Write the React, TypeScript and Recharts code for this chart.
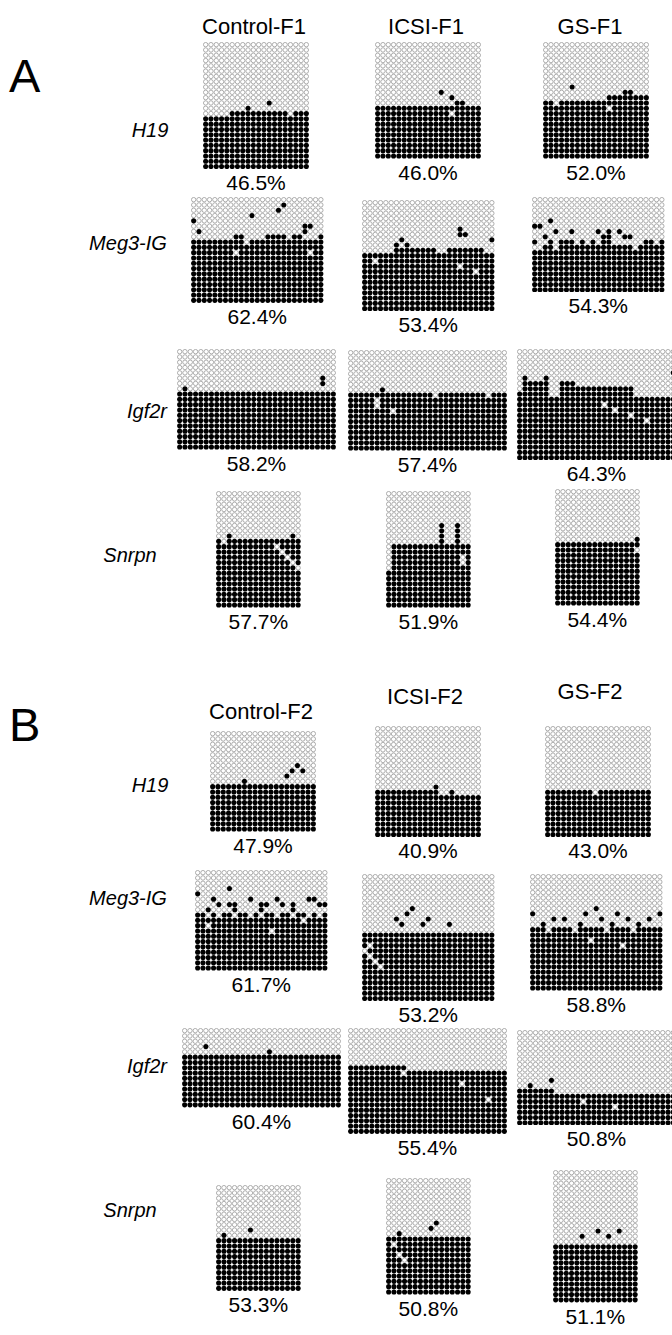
import React from "react";
import { ScatterChart, Scatter, XAxis, YAxis } from "recharts";

// dot pitch in px
const P = 5.3;

const groupsA = ["Control-F1", "ICSI-F1", "GS-F1"];
const groupsB = ["Control-F2", "ICSI-F2", "GS-F2"];
const genes = ["H19", "Meg3-IG", "Igf2r", "Snrpn"];

// methylated clones per CpG column (counted from the bottom), plus single dots that break the pattern
const aH19CtrlH = [10, 10, 10, 10, 10, 11, 11, 11, 11, 11, 11, 11, 11, 11, 11, 11, 11, 11, 11, 11];
const aH19CtrlF = [[8, 11], [12, 12], [16, 10]];
const aH19IcsiH = [10, 10, 10, 10, 10, 10, 10, 10, 10, 10, 10, 10, 10, 10, 10, 11, 11, 10, 10, 10];
const aH19IcsiF = [[12, 12], [14, 11], [14, 8]];
const aH19GsH = [11, 11, 11, 11, 11, 11, 11, 11, 11, 11, 11, 11, 12, 12, 12, 12, 12, 12, 12, 12];
const aH19GsF = [[5, 13], [15, 12], [16, 12], [2, 10], [12, 9]];

const aMegCtrlH = [12, 12, 12, 12, 12, 12, 12, 12, 13, 13, 11, 12, 12, 12, 13, 13, 13, 13, 12, 13, 13, 12, 12, 12, 13];
const aMegCtrlF = [[0, 15], [1, 13], [11, 16], [16, 17], [17, 18], [21, 14], [22, 14], [21, 13], [8, 9], [22, 9]];
const aMegIcsiH = [11, 11, 11, 11, 11, 11, 12, 12, 12, 12, 12, 12, 12, 12, 11, 11, 12, 12, 12, 12, 12, 12, 12, 11, 11];
const aMegIcsiF = [[7, 13], [6, 12], [8, 12], [18, 15], [18, 14], [19, 14], [24, 13], [2, 9], [18, 8], [21, 7]];
const aMegGsH = [8, 8, 9, 9, 8, 9, 9, 9, 9, 9, 9, 9, 9, 9, 9, 9, 9, 9, 9, 8, 9, 9, 9, 9, 9];
const aMegGsF = [
  [0, 9], [3, 9], [5, 9], [6, 9], [7, 9], [9, 9], [11, 9], [13, 9], [14, 9], [21, 9], [22, 9], [24, 9],
  [2, 10], [13, 10], [14, 10], [17, 10], [18, 10], [4, 11], [7, 11], [12, 11], [14, 11], [16, 11],
  [0, 12], [1, 12], [3, 13],
];

const aIgfCtrlH = [11, 11, 11, 11, 11, 11, 11, 11, 11, 11, 11, 11, 11, 11, 11, 11, 11, 11, 11, 11, 11, 11, 11, 11, 11, 11, 11, 11, 11, 11];
const aIgfCtrlF = [[1, 11], [27, 12], [27, 13]];
const aIgfIcsiH = [11, 11, 11, 11, 11, 11, 11, 11, 11, 11, 11, 11, 11, 11, 11, 11, 11, 11, 11, 11, 11, 11, 11, 11, 11, 11, 11, 11, 11, 11];
const aIgfIcsiF = [[6, 11], [5, 9], [5, 8], [8, 7], [16, 10], [26, 10]];
const aIgfGsH = [13, 15, 15, 15, 15, 15, 12, 12, 15, 15, 15, 14, 14, 14, 14, 14, 14, 14, 14, 14, 14, 14, 12, 12, 12, 12, 12, 12, 12, 12];
const aIgfGsF = [[1, 15], [5, 15], [29, 16], [16, 10], [18, 9], [21, 8], [24, 7]];

const aSnrCtrlH = [13, 13, 13, 13, 13, 13, 13, 13, 13, 13, 13, 13, 13, 13, 13, 13];
const aSnrCtrlF = [[2, 13], [14, 13], [1, 12], [11, 11], [12, 10], [13, 9], [14, 8], [15, 7]];
const aSnrIcsiH = [7, 12, 12, 12, 12, 12, 12, 12, 12, 12, 12, 12, 12, 12, 12, 12];
const aSnrIcsiF = [[10, 12], [10, 13], [10, 14], [10, 15], [13, 12], [13, 13], [13, 14], [13, 15], [14, 9], [14, 8]];
const aSnrGsH = [12, 12, 12, 12, 12, 12, 12, 12, 12, 12, 12, 12, 12, 12, 12, 12];
const aSnrGsF = [[15, 12], [15, 10]];

const bH19CtrlH = [9, 9, 9, 9, 9, 9, 9, 9, 9, 9, 9, 9, 9, 9, 9, 9, 9, 9, 9, 9];
const bH19CtrlF = [[6, 9], [14, 10], [15, 11], [16, 12], [17, 11]];
const bH19IcsiH = [9, 9, 9, 9, 9, 9, 9, 9, 9, 9, 9, 9, 9, 8, 8, 8, 8, 8, 8, 8];
const bH19IcsiF = [[11, 9], [12, 8], [14, 8]];
const bH19GsH = [9, 9, 9, 9, 9, 9, 9, 9, 9, 9, 9, 9, 9, 9, 9, 9, 9, 9, 9, 9];
const bH19GsF = [[9, 8]];

const bMegCtrlH = [10, 10, 10, 10, 10, 10, 10, 10, 10, 10, 10, 10, 10, 10, 10, 10, 10, 10, 10, 10, 10, 10, 10, 10, 10];
const bMegCtrlF = [
  [0, 14], [6, 15], [3, 13], [4, 12], [6, 12], [7, 12], [10, 13], [12, 12], [13, 12], [15, 13], [16, 12],
  [18, 12], [21, 13], [22, 13], [23, 12], [24, 12], [0, 10], [1, 10], [3, 10], [5, 10], [6, 10], [8, 10],
  [9, 10], [11, 10], [13, 10], [14, 10], [16, 10], [17, 10], [19, 10], [20, 10], [22, 10], [24, 10],
  [2, 11], [7, 11], [12, 11], [18, 11], [2, 8], [14, 7], [20, 9],
];
const bMegIcsiH = [13, 13, 13, 13, 13, 13, 13, 13, 13, 13, 13, 13, 13, 13, 13, 13, 13, 13, 13, 13, 13, 13, 13, 13, 13];
const bMegIcsiF = [[6, 15], [8, 16], [9, 17], [11, 14], [12, 15], [16, 14], [7, 14], [1, 8], [2, 7], [3, 6], [1, 10], [0, 9]];
const bMegGsH = [12, 12, 12, 12, 12, 12, 12, 12, 12, 12, 12, 12, 12, 12, 12, 12, 12, 12, 12, 12, 12, 12, 12, 12, 12];
const bMegGsF = [
  [0, 14], [2, 12], [4, 13], [6, 13], [9, 12], [10, 14], [12, 15], [13, 13], [15, 12], [16, 14], [18, 13],
  [20, 12], [22, 13], [24, 14], [3, 11], [8, 11], [14, 11], [19, 11], [11, 9], [17, 8],
];

const bIgfCtrlH = [10, 10, 10, 10, 10, 10, 10, 10, 10, 10, 10, 10, 10, 10, 10, 10, 10, 10, 10, 10, 10, 10, 10, 10, 10, 10, 10, 10, 10, 10];
const bIgfCtrlF = [[4, 11], [16, 10]];
const bIgfIcsiH = [13, 13, 13, 13, 13, 13, 13, 13, 13, 13, 13, 12, 12, 12, 12, 12, 12, 12, 12, 12, 12, 12, 12, 12, 12, 12, 12, 12, 12, 12];
const bIgfIcsiF = [[10, 11], [26, 6], [21, 9]];
const bIgfGsH = [7, 7, 7, 7, 7, 7, 7, 6, 6, 6, 6, 6, 6, 6, 6, 6, 6, 6, 6, 6, 6, 6, 6, 6, 6, 6, 6, 6, 6, 6];
const bIgfGsF = [[2, 7], [6, 8], [12, 4], [18, 3]];

const bSnrCtrlH = [10, 10, 10, 10, 10, 10, 10, 10, 10, 10, 10, 10, 10, 10, 10, 10];
const bSnrCtrlF = [[1, 10], [6, 11]];
const bSnrIcsiH = [11, 11, 11, 11, 11, 11, 11, 11, 11, 11, 11, 11, 11, 11, 11, 11];
const bSnrIcsiF = [[2, 11], [8, 12], [9, 13], [1, 9], [2, 7], [3, 6]];
const bSnrGsH = [11, 11, 11, 11, 11, 11, 11, 11, 11, 11, 11, 11, 11, 11, 11, 11];
const bSnrGsF = [[5, 12], [8, 13], [10, 12], [12, 13]];

const pctA = ["46.5%", "46.0%", "52.0%", "62.4%", "53.4%", "54.3%", "58.2%", "57.4%", "64.3%", "57.7%", "51.9%", "54.4%"];
const pctB = ["47.9%", "40.9%", "43.0%", "61.7%", "53.2%", "58.8%", "60.4%", "55.4%", "50.8%", "53.3%", "50.8%", "51.1%"];

type Grid = { rows: number; heights: number[]; flips: number[][]; pct: string };

const gridsA: Grid[] = [
  { rows: 24, heights: aH19CtrlH, flips: aH19CtrlF, pct: pctA[0] },
  { rows: 22, heights: aH19IcsiH, flips: aH19IcsiF, pct: pctA[1] },
  { rows: 22, heights: aH19GsH, flips: aH19GsF, pct: pctA[2] },
  { rows: 20, heights: aMegCtrlH, flips: aMegCtrlF, pct: pctA[3] },
  { rows: 21, heights: aMegIcsiH, flips: aMegIcsiF, pct: pctA[4] },
  { rows: 18, heights: aMegGsH, flips: aMegGsF, pct: pctA[5] },
  { rows: 19, heights: aIgfCtrlH, flips: aIgfCtrlF, pct: pctA[6] },
  { rows: 19, heights: aIgfIcsiH, flips: aIgfIcsiF, pct: pctA[7] },
  { rows: 21, heights: aIgfGsH, flips: aIgfGsF, pct: pctA[8] },
  { rows: 22, heights: aSnrCtrlH, flips: aSnrCtrlF, pct: pctA[9] },
  { rows: 22, heights: aSnrIcsiH, flips: aSnrIcsiF, pct: pctA[10] },
  { rows: 22, heights: aSnrGsH, flips: aSnrGsF, pct: pctA[11] },
];

const gridsB: Grid[] = [
  { rows: 19, heights: bH19CtrlH, flips: bH19CtrlF, pct: pctB[0] },
  { rows: 21, heights: bH19IcsiH, flips: bH19IcsiF, pct: pctB[1] },
  { rows: 21, heights: bH19GsH, flips: bH19GsF, pct: pctB[2] },
  { rows: 19, heights: bMegCtrlH, flips: bMegCtrlF, pct: pctB[3] },
  { rows: 24, heights: bMegIcsiH, flips: bMegIcsiF, pct: pctB[4] },
  { rows: 22, heights: bMegGsH, flips: bMegGsF, pct: pctB[5] },
  { rows: 15, heights: bIgfCtrlH, flips: bIgfCtrlF, pct: pctB[6] },
  { rows: 20, heights: bIgfIcsiH, flips: bIgfIcsiF, pct: pctB[7] },
  { rows: 18, heights: bIgfGsH, flips: bIgfGsF, pct: pctB[8] },
  { rows: 20, heights: bSnrCtrlH, flips: bSnrCtrlF, pct: pctB[9] },
  { rows: 22, heights: bSnrIcsiH, flips: bSnrIcsiF, pct: pctB[10] },
  { rows: 25, heights: bSnrGsH, flips: bSnrGsF, pct: pctB[11] },
];

// page placement of each grid (left, top)
const posA = [
  [203, 42], [375, 42], [543, 42],
  [191, 197], [362, 200], [532, 197],
  [177, 349], [348, 350], [517, 349],
  [216, 491], [386, 491], [555, 489],
];
const posB = [
  [210, 731], [375, 726], [545, 726],
  [195, 870], [362, 874], [530, 874],
  [182, 1028], [348, 1028], [517, 1030],
  [216, 1185], [386, 1178], [553, 1170],
];

const font = "'Liberation Sans', Arial, Helvetica, sans-serif";

const OpenDot = (p: any) => <circle cx={p.cx} cy={p.cy} r={2.2} fill="#fff" stroke="#9a9a9a" strokeWidth={0.8} />;
const FullDot = (p: any) => <circle cx={p.cx} cy={p.cy} r={2.55} fill="#000" />;

function DotGrid({ g, left, top }: { g: Grid; left: number; top: number }) {
  const cols = g.heights.length;
  const flipSet = new Set(g.flips.map(([c, r]) => c + ":" + r));
  const full: { c: number; r: number }[] = [];
  const open: { c: number; r: number }[] = [];
  g.heights.forEach((h, c) => {
    for (let r = 0; r < g.rows; r++) {
      let on = r < h;
      if (flipSet.has(c + ":" + r)) on = !on;
      (on ? full : open).push({ c, r });
    }
  });
  const w = cols * P;
  const h = g.rows * P;
  return (
    <>
      <div style={{ position: "absolute", left, top }}>
        <ScatterChart width={w} height={h} margin={{ top: 0, right: 0, bottom: 0, left: 0 }}>
          <XAxis type="number" dataKey="c" domain={[-0.5, cols - 0.5]} hide />
          <YAxis type="number" dataKey="r" domain={[-0.5, g.rows - 0.5]} hide />
          <Scatter data={open} shape={OpenDot} isAnimationActive={false} />
          <Scatter data={full} shape={FullDot} isAnimationActive={false} />
        </ScatterChart>
      </div>
      <div
        style={{
          position: "absolute",
          left: left + w / 2,
          top: top + h + 3,
          transform: "translateX(-50%)",
          fontSize: 21,
          lineHeight: "22px",
          whiteSpace: "nowrap",
        }}
      >
        {g.pct}
      </div>
    </>
  );
}

const titleA = [[254, 15], [426, 15], [590, 15]];
const titleB = [[261, 700], [425, 685], [590, 680]];
const geneY = [[150, 130], [128, 243], [147, 411], [130, 555]];

function Panel({ letter, letterY, groups, titles, grids, pos, shift }: any) {
  return (
    <>
      <div style={{ position: "absolute", left: 9, top: letterY, fontSize: 47, lineHeight: "48px" }}>{letter}</div>
      {groups.map((t: string, i: number) => (
        <div
          key={t}
          style={{
            position: "absolute",
            left: titles[i][0],
            top: titles[i][1],
            transform: "translateX(-50%)",
            fontSize: 22,
            lineHeight: "24px",
            whiteSpace: "nowrap",
          }}
        >
          {t}
        </div>
      ))}
      {genes.map((gname, i) => (
        <div
          key={gname}
          style={{
            position: "absolute",
            left: geneY[i][0],
            top: geneY[i][1] + shift - 11,
            transform: "translateX(-50%)",
            fontSize: 20,
            lineHeight: "22px",
            fontStyle: "italic",
            whiteSpace: "nowrap",
          }}
        >
          {gname}
        </div>
      ))}
      {grids.map((g: Grid, i: number) => (
        <DotGrid key={i} g={g} left={pos[i][0]} top={pos[i][1]} />
      ))}
    </>
  );
}

export default function App() {
  return (
    <div
      style={{
        position: "absolute",
        left: 0,
        top: 0,
        width: 672,
        height: 1335,
        overflow: "hidden",
        background: "#fff",
        fontFamily: font,
        color: "#000",
      }}
    >
      <Panel letter="A" letterY={52} groups={groupsA} titles={titleA} grids={gridsA} pos={posA} shift={0} />
      <Panel letter="B" letterY={701} groups={groupsB} titles={titleB} grids={gridsB} pos={posB} shift={655} />
    </div>
  );
}
